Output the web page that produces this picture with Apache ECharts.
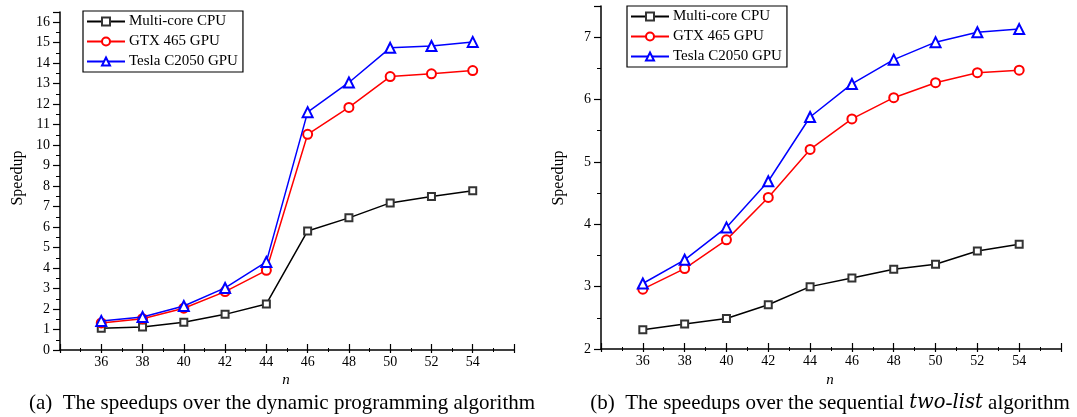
<!DOCTYPE html>
<html>
<head>
<meta charset="utf-8">
<script src="https://cdn.jsdelivr.net/npm/echarts@6/dist/echarts.min.js"></script>
<style>
  html, body { margin: 0; padding: 0; background: #fff; }
  #chart { width: 1077px; height: 417px; }
</style>
</head>
<body>
<div id="chart"></div>
<script>
// problem size n on the x axis
const nValues = [36, 38, 40, 42, 44, 46, 48, 50, 52, 54]
const seriesNames = ['Multi-core CPU', 'GTX 465 GPU', 'Tesla C2050 GPU']

// (a) speedups over the dynamic programming algorithm
const cpuA = [1.06, 1.12, 1.35, 1.74, 2.25, 5.81, 6.45, 7.18, 7.49, 7.77]
const gtxA = [1.32, 1.53, 2.04, 2.85, 3.89, 10.53, 11.84, 13.35, 13.48, 13.64]
const teslaA = [1.42, 1.61, 2.15, 3.03, 4.3, 11.61, 13.06, 14.75, 14.84, 15.04]

// (b) speedups over the sequential two-list algorithm
const cpuB = [2.31, 2.4, 2.49, 2.71, 3.0, 3.14, 3.28, 3.36, 3.57, 3.68]
const gtxB = [2.96, 3.29, 3.75, 4.43, 5.2, 5.69, 6.03, 6.27, 6.43, 6.47]
const teslaB = [3.05, 3.43, 3.95, 4.69, 5.72, 6.25, 6.64, 6.92, 7.08, 7.13]

const serif = 'Liberation Serif'
const chart = echarts.init(document.getElementById('chart'))

const lineStyles = [
  { color: '#000', symbol: 'emptyRect', size: 7, border: '#333' },
  { color: '#ff0000', symbol: 'emptyCircle', size: 9, border: '#ff0000' },
  { color: '#0000ff', symbol: 'emptyTriangle', size: 10, border: '#0000ff' }
]

function makeSeries(name, values, idx, grid) {
  const st = lineStyles[idx]
  return {
    name: name,
    type: 'line',
    xAxisIndex: grid * 2,
    yAxisIndex: grid,
    data: nValues.map((n, i) => [n, values[i]]),
    symbol: st.symbol,
    symbolSize: st.size,
    showAllSymbol: true,
    z: 2 + idx,
    lineStyle: { color: st.color, width: 1.5 },
    itemStyle: { color: st.border, borderColor: st.border, borderWidth: 1.3 },
    emphasis: { disabled: true },
    animation: false
  }
}

// the x ticks cross the axis line, so a second bare axis draws the outer half
function xAxisFor(grid, inside) {
  return {
    type: 'value',
    gridIndex: grid,
    position: 'bottom',
    min: 34,
    max: 56,
    interval: 2,
    axisLine: { show: inside, onZero: false, lineStyle: { color: '#000', width: 1.5 } },
    axisTick: { show: true, inside: inside, length: inside ? 6 : 3, lineStyle: { color: '#000', width: 1.2 } },
    minorTick: { show: true, splitNumber: 2, length: 2, lineStyle: { color: '#000', width: 1 } },
    splitLine: { show: false },
    axisLabel: {
      show: inside,
      margin: 5,
      color: '#000',
      fontFamily: serif,
      fontSize: 14,
      formatter: v => (v === 34 || v === 56 ? '' : v)
    }
  }
}

function yAxisFor(grid, min, max) {
  return {
    type: 'value',
    gridIndex: grid,
    min: min,
    max: max,
    interval: 1,
    axisLine: { show: true, onZero: false, lineStyle: { color: '#000', width: 1.5 } },
    axisTick: { show: true, length: 7, lineStyle: { color: '#000', width: 1.2 } },
    minorTick: { show: true, splitNumber: 2, length: 4, lineStyle: { color: '#000', width: 1 } },
    splitLine: { show: false },
    axisLabel: {
      margin: 10,
      color: '#000',
      fontFamily: serif,
      fontSize: 14,
      formatter: v => (Number.isInteger(v) ? v : '')
    }
  }
}

function legendFor(left, top) {
  return {
    left: left,
    top: top,
    orient: 'vertical',
    data: seriesNames,
    borderColor: '#000',
    borderWidth: 1.2,
    padding: [3, 5, 3, 3],
    itemGap: 5,
    itemWidth: 38,
    itemHeight: 10,
    selectedMode: false,
    textStyle: { fontFamily: serif, fontSize: 15, color: '#000', padding: [0, 0, 0, -1] }
  }
}

function textEl(x, y, text, size, italic, rot) {
  return {
    type: 'text',
    x: x,
    y: y,
    rotation: rot || 0,
    style: {
      text: text,
      fontFamily: serif,
      fontSize: size,
      fontStyle: italic ? 'italic' : 'normal',
      fill: '#000',
      align: 'center',
      verticalAlign: 'middle'
    }
  }
}

const option = {
  backgroundColor: '#fff',
  animation: false,
  grid: [
    { left: 60, right: 563, top: 12, bottom: 67 },
    { left: 601, right: 16, top: 6, bottom: 68 }
  ],
  xAxis: [xAxisFor(0, true), xAxisFor(0, false), xAxisFor(1, true), xAxisFor(1, false)],
  yAxis: [yAxisFor(0, 0, 16.5), yAxisFor(1, 2, 7.5)],
  legend: [legendFor(83, 11), legendFor(627, 6)],
  series: [
    makeSeries(seriesNames[0], cpuA, 0, 0),
    makeSeries(seriesNames[1], gtxA, 1, 0),
    makeSeries(seriesNames[2], teslaA, 2, 0),
    makeSeries(seriesNames[0], cpuB, 0, 1),
    makeSeries(seriesNames[1], gtxB, 1, 1),
    makeSeries(seriesNames[2], teslaB, 2, 1)
  ],
  graphic: [
    textEl(18, 178, 'Speedup', 16, false, Math.PI / 2),
    textEl(559, 178, 'Speedup', 16, false, Math.PI / 2),
    textEl(286, 380, 'n', 15, true),
    textEl(830, 380, 'n', 15, true),
    textEl(282, 403, '(a)  The speedups over the dynamic programming algorithm', 21, false),
    {
      type: 'text',
      x: 830,
      y: 403,
      style: {
        text: '{n|(b)  The speedups over the sequential }{i|two}{n|-}{i|list}{n| algorithm}',
        fontFamily: serif,
        fontSize: 21,
        fill: '#000',
        align: 'center',
        verticalAlign: 'middle',
        rich: {
          n: { fontFamily: serif, fontSize: 21, fill: '#000' },
          i: { fontFamily: 'DejaVu Serif', fontSize: 19.5, fontStyle: 'italic', fill: '#000' }
        }
      }
    }
  ]
}

chart.setOption(option)
</script>
</body>
</html>
